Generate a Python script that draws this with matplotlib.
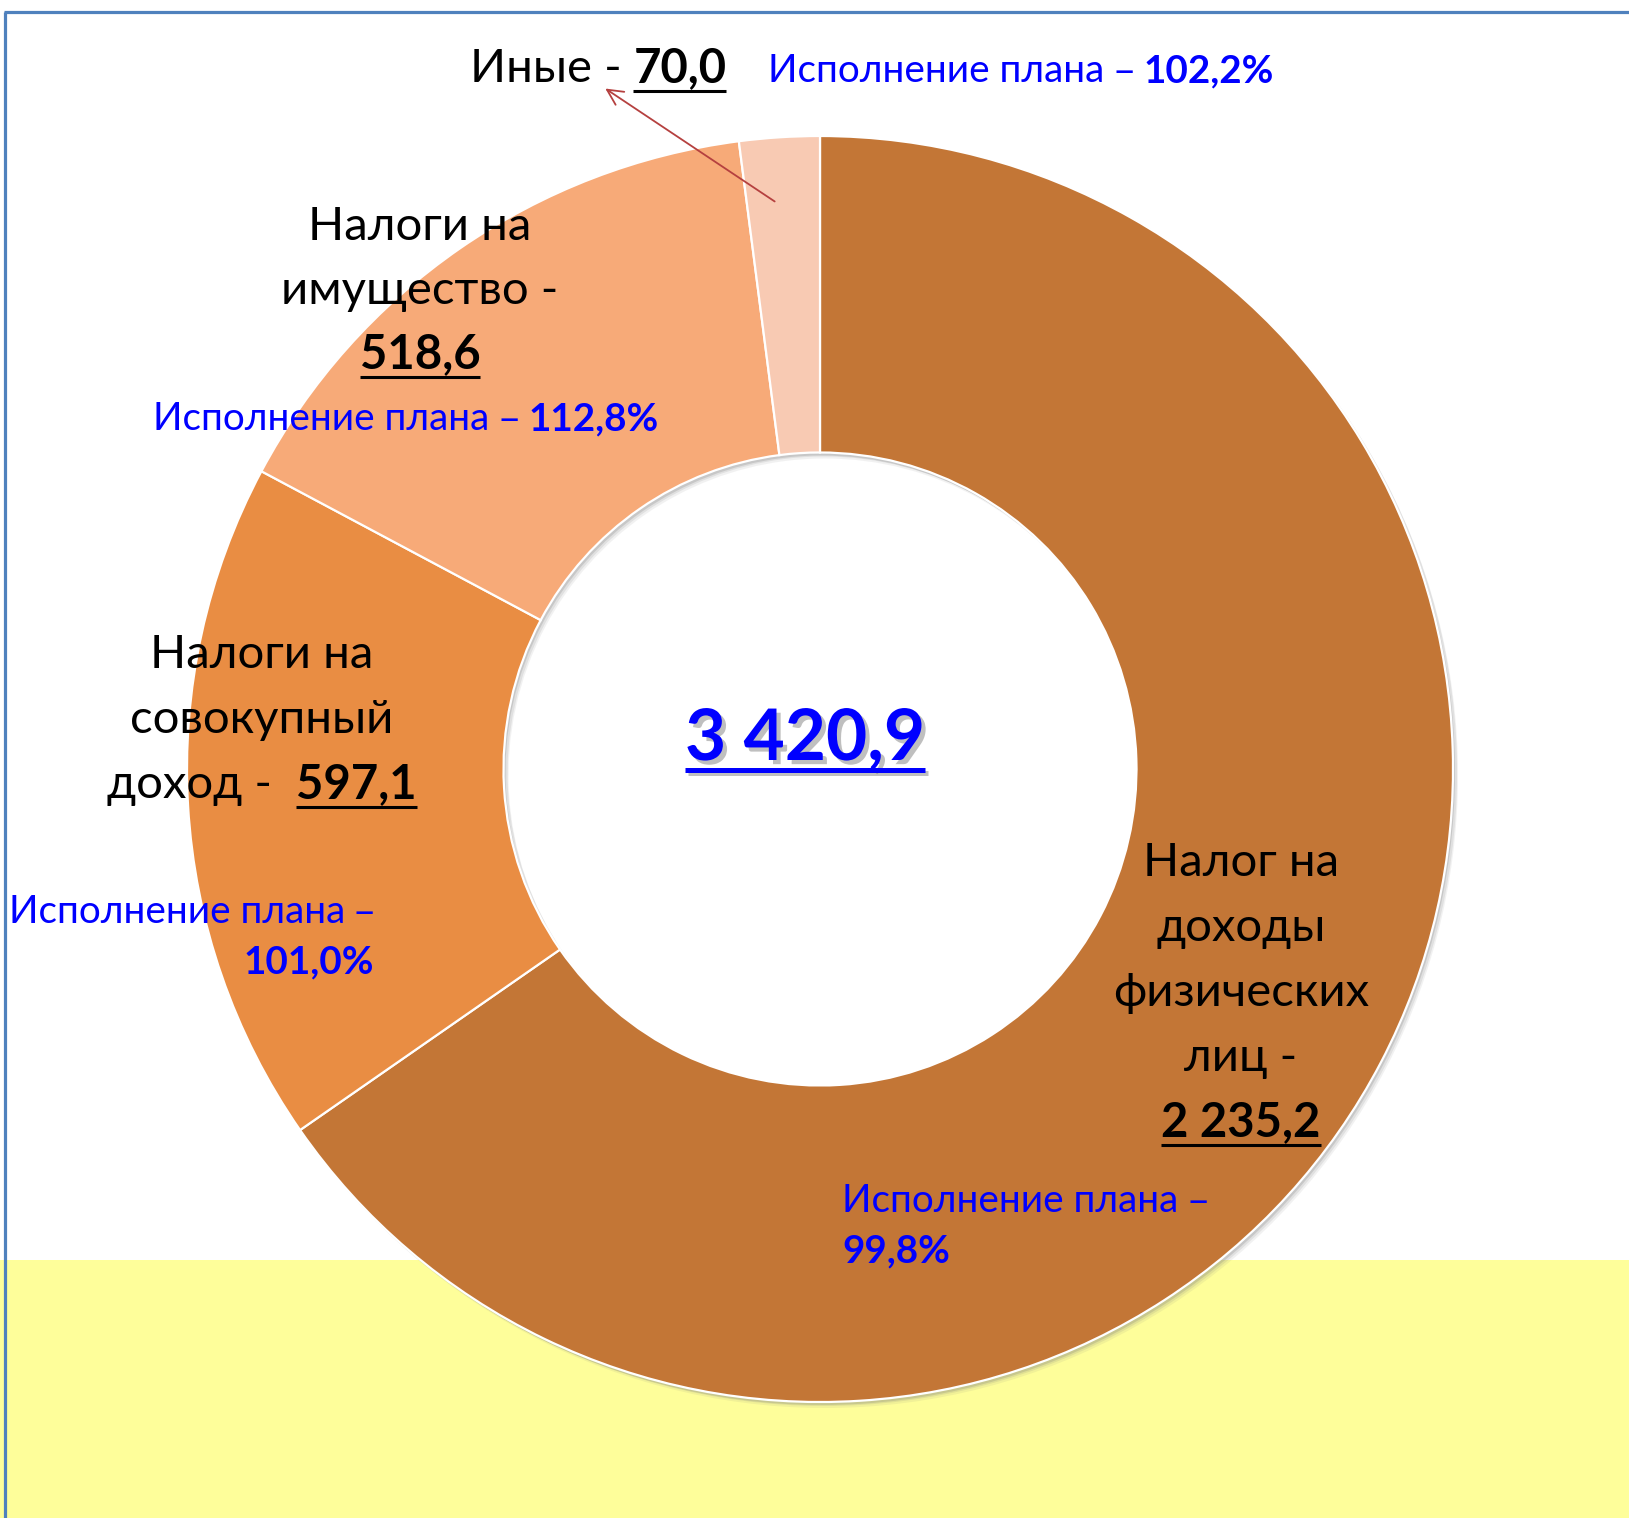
import matplotlib.pyplot as plt
import matplotlib.patheffects as pe

plt.rcParams['font.family'] = ['Lato', 'Open Sans', 'DejaVu Sans']

# data
categories = ["Налог на доходы физических лиц", "Налоги на совокупный доход",
              "Налоги на имущество", "Иные"]
values = [2235.2, 597.1, 518.6, 70.0]
plan_pct = [99.8, 101.0, 112.8, 102.2]
colors = ["#C37636", "#E98D43", "#F7AA78", "#F8CAB3"]

W, H = 1629, 1518
BLUE = "#0000FF"
DASH_FONT = ["Open Sans", "DejaVu Sans"]


def Y(y):
    # pixel row (from top) -> data y
    return H - y


def fmt(v):
    return f"{v:,.1f}".replace(",", " ").replace(".", ",")


fig = plt.figure(figsize=(W / 100, H / 100), dpi=100)
ax = fig.add_axes([0, 0, 1, 1])

# yellow band and blue frame
ax.axhspan(0, Y(1260), color="#FEFE9A", zorder=0, lw=0)
ax.plot([4, W], [Y(12), Y(12)], color="#4F81BD", lw=2.3, zorder=1, solid_capstyle="butt")
ax.plot([5, 5], [Y(12), 0], color="#4F81BD", lw=2.3, zorder=1, solid_capstyle="butt")

# donut with soft shadow
cx, cy, R = 820, Y(769), 633
for dx, dy, a in [(5, -6, 0.10), (4, -4, 0.15), (2, -3, 0.25)]:
    sh, _ = ax.pie(values, colors=["#7F7F7F"] * len(values), startangle=90,
                   counterclock=False, radius=R, center=(cx + dx, cy + dy),
                   wedgeprops=dict(width=R * 0.5, alpha=a, lw=0))
    for w in sh:
        w.set_zorder(1.5)
wedges, _ = ax.pie(values, colors=colors, startangle=90, counterclock=False,
                   radius=R, center=(cx, cy),
                   wedgeprops=dict(width=R * 0.5, edgecolor="white", linewidth=1.6))
for w in wedges:
    w.set_zorder(2)

ax.set_xlim(0, W)
ax.set_ylim(0, H)
ax.set_aspect("auto")
ax.axis("off")

renderer = fig.canvas.get_renderer()


def width(s, size, weight, family=None):
    kw = dict(fontsize=size, fontweight=weight)
    if family:
        kw["family"] = family
    t = ax.text(0, 0, s + "|", **kw)
    t2 = ax.text(0, 0, "|", **kw)
    w = t.get_window_extent(renderer).width - t2.get_window_extent(renderer).width
    t.remove()
    t2.remove()
    return w


def fit(s, weight, target):
    return 20 * target / width(s, 20, weight)


label_size = fit("Налоги на", "normal", 223)
blue_size = fit("Исполнение плана –", "normal", 368)
center_size = fit("3 420,9", "bold", 240)


def part(s, weight="normal", ul=False, col="black", family=None):
    return (s, weight, ul, col, family)


def draw_line(x, y, parts, size, ha="center", ul_off=9, ul_lw=2.2, effects=None):
    widths = [width(s, size, wgt, fam) for s, wgt, ul, col, fam in parts]
    total = sum(widths)
    x0 = {"center": x - total / 2, "right": x - total, "left": x}[ha]
    for (s, wgt, ul, col, fam), w in zip(parts, widths):
        kw = dict(family=fam) if fam else {}
        ax.text(x0, Y(y), s, fontsize=size, fontweight=wgt, color=col,
                ha="left", va="baseline", zorder=5, path_effects=effects, **kw)
        if ul:
            wl = width(s.rstrip(), size, wgt, fam)
            ln, = ax.plot([x0, x0 + wl], [Y(y + ul_off)] * 2, color=col, lw=ul_lw,
                          zorder=5, solid_capstyle="butt")
            if effects:
                ln.set_path_effects([pe.SimpleLineShadow(offset=(2, -2), shadow_color="gray", alpha=0.5),
                                     pe.Normal()])
        x0 += w


def plan_head():
    return [part("Исполнение плана ", col=BLUE), part("–", col=BLUE, family=DASH_FONT)]


def plan_value(i):
    return part(f"{plan_pct[i]:.1f}%".replace(".", ","), "bold", col=BLUE)


# Иные
draw_line(598, 82, [part("Иные - "), part(fmt(values[3]), "bold", True)], label_size)
draw_line(768, 82, plan_head() + [part(" ", col=BLUE), plan_value(3)], blue_size, ha="left")

# Налоги на имущество
for y, txt in zip([240, 304], ["Налоги на", "имущество -"]):
    draw_line(420, y, [part(txt)], label_size)
draw_line(420, 368, [part(fmt(values[2]), "bold", True)], label_size)
draw_line(153, 430, plan_head() + [part(" ", col=BLUE), plan_value(2)], blue_size, ha="left")

# Налоги на совокупный доход
for y, txt in zip([668, 733], ["Налоги на", "совокупный"]):
    draw_line(262, y, [part(txt)], label_size)
draw_line(262, 798, [part("доход -  "), part(fmt(values[1]), "bold", True)], label_size)
draw_line(374, 923, plan_head(), blue_size, ha="right")
draw_line(374, 973, [plan_value(1)], blue_size, ha="right")

# Налог на доходы физических лиц
for y, txt in zip([876, 941, 1006, 1071], ["Налог на", "доходы", "физических", "лиц -"]):
    draw_line(1241, y, [part(txt)], label_size)
draw_line(1241, 1136, [part(fmt(values[0]), "bold", True)], label_size)
draw_line(842, 1212, plan_head(), blue_size, ha="left")
draw_line(842, 1262, [plan_value(0)], blue_size, ha="left")

# total in the hole
shadow = [pe.withSimplePatchShadow(offset=(3, -3), shadow_rgbFace="gray", alpha=0.5)]
draw_line(805, 760, [part(fmt(sum(values)), "bold", True, BLUE)], center_size,
          ul_off=10, ul_lw=3.6, effects=shadow)

# arrow to the small slice
ax.annotate("", xy=(603, Y(87)), xytext=(777, Y(203)),
            arrowprops=dict(arrowstyle="->", color="#B5403F", lw=1.3, mutation_scale=28),
            zorder=6)

fig.savefig("out.png", dpi=100)
